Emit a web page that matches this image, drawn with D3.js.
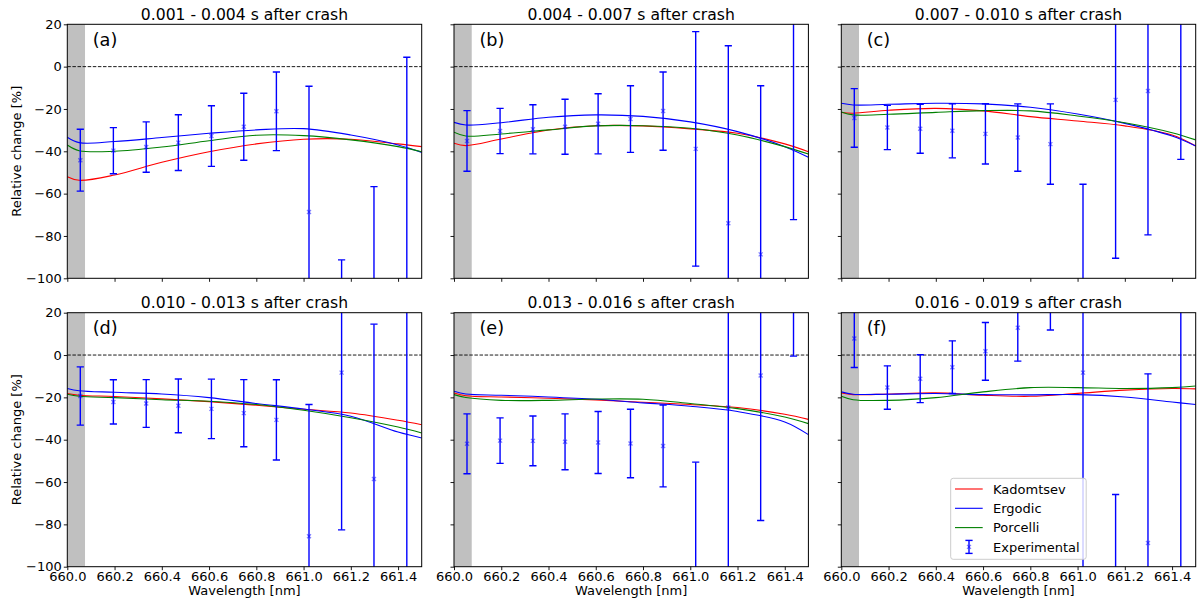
<!DOCTYPE html>
<html>
<head>
<meta charset="utf-8">
<script src="https://cdn.jsdelivr.net/npm/d3@7"></script>
<style>
  body { margin: 0; background: #fff; }
  text { font-family: "DejaVu Sans", sans-serif; fill: #000; }
</style>
</head>
<body>
<svg id="chart"></svg>
<script>
// Panel titles and letters
const titles = [
  '0.001 - 0.004 s after crash', '0.004 - 0.007 s after crash', '0.007 - 0.010 s after crash',
  '0.010 - 0.013 s after crash', '0.013 - 0.016 s after crash', '0.016 - 0.019 s after crash'
]
const letters = ['(a)', '(b)', '(c)', '(d)', '(e)', '(f)']

// Tick labels
const xTicks = [660.0, 660.2, 660.4, 660.6, 660.8, 661.0, 661.2, 661.4]
const yTicks = [-100, -80, -60, -40, -20, 0, 20]

// Excluded region (grey band)
const bandWl = [660.0, 660.075]

// Wavelengths of the model curves
const curveWl = [660.0, 660.05, 660.2, 660.4, 660.6, 660.8, 661.0, 661.2, 661.4, 661.5]

// Model curves, one row per panel
const kadomtsev = [
  [-52.0, -53.7, -51.2, -45.2, -40.2, -36.5, -34.3, -34.3, -36.5, -37.8],
  [-36.2, -37.3, -34.2, -29.9, -27.9, -28.0, -29.4, -31.5, -36.5, -40.2],
  [-21.7, -22.0, -20.6, -19.7, -20.9, -23.6, -25.7, -28.0, -32.3, -37.5],
  [-18.2, -19.0, -19.6, -20.7, -22.0, -23.7, -25.6, -27.4, -30.8, -32.9],
  [-17.9, -19.2, -19.8, -20.4, -21.2, -22.3, -23.4, -24.8, -28.0, -30.4],
  [-17.9, -18.7, -18.4, -17.9, -19.0, -19.5, -18.1, -16.6, -15.8, -16.0]
]
const ergodic = [
  [-33.4, -35.9, -35.4, -33.5, -31.5, -29.9, -29.3, -32.3, -37.0, -40.5],
  [-26.3, -27.6, -26.5, -23.9, -22.8, -23.5, -26.1, -30.7, -37.8, -42.8],
  [-17.3, -18.1, -17.8, -17.3, -17.6, -19.2, -22.4, -26.8, -32.8, -37.5],
  [-15.8, -16.9, -17.6, -18.4, -20.1, -22.9, -25.5, -28.9, -36.4, -39.2],
  [-17.1, -18.4, -19.0, -19.8, -20.9, -22.6, -24.2, -26.7, -31.6, -37.6],
  [-17.4, -18.5, -18.5, -18.2, -18.7, -18.8, -18.7, -19.8, -22.2, -23.4]
]
const porcelli = [
  [-37.0, -39.7, -40.0, -38.0, -35.0, -32.4, -32.6, -34.6, -37.8, -40.2],
  [-31.0, -32.8, -31.8, -29.9, -28.0, -27.9, -29.1, -32.3, -37.8, -41.3],
  [-21.4, -22.8, -22.5, -21.6, -20.8, -20.9, -23.3, -26.5, -31.2, -34.6],
  [-18.5, -19.5, -20.1, -21.1, -21.8, -23.4, -26.1, -29.6, -34.0, -36.8],
  [-18.7, -20.1, -21.4, -21.4, -20.8, -20.9, -22.9, -25.3, -29.3, -32.4],
  [-19.5, -21.1, -21.4, -20.1, -17.4, -15.4, -15.4, -15.8, -15.4, -14.6]
]

// Experimental points
const pointWl = [660.055, 660.195, 660.334, 660.47, 660.61, 660.747, 660.885, 661.023, 661.161, 661.298, 661.437]
const expValue = [
  [-44.2, -39.7, -38.0, -35.9, -32.8, -28.4, -21.1, -68.7, -150, -140, -120],
  [-35.1, -30.4, -29.6, -28.4, -27.0, -24.75, -21.0, -38.85, -74.0, -88.7, 45],
  [-24.25, -28.75, -29.35, -30.3, -31.75, -33.5, -36.6, -115, -15.7, -11.5, 40],
  [-19.35, -22.15, -22.9, -24.0, -25.45, -27.45, -30.65, -85.6, -8.3, -58.6, -130],
  [-41.95, -40.45, -40.55, -41.0, -41.35, -41.8, -42.95, -110, -24.8, -9.7, 60],
  [7.8, -15.35, -11.2, -5.75, 1.75, 12.9, 30, -8.3, -130, -88.8, -140]
]
const expError = [
  [14.6, 10.9, 11.9, 13.2, 14.3, 15.8, 18.6, 59.4, 58.7, 83.3, 124.4],
  [14.3, 10.7, 11.6, 13.0, 14.2, 15.75, 18.5, 55.4, 83.9, 79.7, 117.3],
  [13.85, 10.45, 11.55, 12.8, 14.25, 15.9, 19.0, 59.4, 74.8, 68.0, 83.8],
  [13.75, 10.45, 11.3, 12.7, 14.05, 15.85, 18.95, 62.2, 74.3, 73.2, 170],
  [14.15, 10.75, 11.75, 13.2, 14.65, 16.2, 19.35, 59.4, 85, 68.5, 60.5],
  [13.7, 10.25, 11.3, 12.45, 13.65, 15.8, 18.2, 100, 64.1, 79.9, 175]
]

const legendNames = ['Kadomtsev', 'Ergodic', 'Porcelli', 'Experimental']

// Layout
const width = 1198
const height = 604
const colLeft = [67.3, 454, 841.3]
const rowTop = [24.3, 312.7]
const panelW = 354.4
const panelH = 254

const svg = d3.select('#chart')
  .attr('width', width)
  .attr('height', height)

svg.append('rect')
  .attr('width', width)
  .attr('height', height)
  .attr('fill', '#fff')

const xScale = d3.scaleLinear().domain([660.0, 661.5]).range([0, panelW])
const yScale = d3.scaleLinear().domain([-100, 20]).range([panelH, 0])

const curveLine = d3.line()
  .x(d => xScale(d[0]))
  .y(d => yScale(d[1]))
  .curve(d3.curveCatmullRom.alpha(0.5))

const models = [
  {values: kadomtsev, color: '#ff0000'},
  {values: ergodic, color: '#0000ff'},
  {values: porcelli, color: '#008000'}
]

titles.forEach((title, i) => {
  const row = Math.floor(i / 3)
  const col = i % 3

  const graph = svg.append('g')
    .attr('transform', `translate(${colLeft[col]},${rowTop[row]})`)

  graph.append('clipPath')
    .attr('id', `clip${i}`)
    .append('rect')
      .attr('width', panelW)
      .attr('height', panelH)

  const plot = graph.append('g').attr('clip-path', `url(#clip${i})`)

  // grey band
  plot.append('rect')
    .attr('x', xScale(bandWl[0]))
    .attr('y', 0)
    .attr('width', xScale(bandWl[1]) - xScale(bandWl[0]))
    .attr('height', panelH)
    .attr('fill', '#c0c0c0')

  // zero line
  plot.append('line')
    .attr('x1', 0).attr('x2', panelW)
    .attr('y1', yScale(0)).attr('y2', yScale(0))
    .attr('stroke', '#000')
    .attr('stroke-width', 0.9)
    .attr('stroke-dasharray', '3.5,1.6')

  // model curves
  models.forEach(m => {
    plot.append('path')
      .datum(curveWl.map((w, k) => [w, m.values[i][k]]))
      .attr('d', curveLine)
      .attr('fill', 'none')
      .attr('stroke', m.color)
      .attr('stroke-width', 1.1)
  })

  // experimental error bars
  const pts = pointWl.map((w, k) => ({w, v: expValue[i][k], e: expError[i][k]}))
  const bars = plot.selectAll('g.err')
    .data(pts)
    .enter()
    .append('g')
      .attr('class', 'err')
      .attr('transform', d => `translate(${xScale(d.w)},0)`)

  bars.append('line')
    .attr('y1', d => yScale(d.v - d.e))
    .attr('y2', d => yScale(d.v + d.e))
    .attr('stroke', '#0000ff')
    .attr('stroke-width', 1.4)

  bars.selectAll('line.cap')
    .data(d => [d.v - d.e, d.v + d.e])
    .enter()
    .append('line')
      .attr('class', 'cap')
      .attr('x1', -3.6).attr('x2', 3.6)
      .attr('y1', d => yScale(d)).attr('y2', d => yScale(d))
      .attr('stroke', '#0000ff')
      .attr('stroke-width', 1.4)

  bars.append('path')
    .attr('d', d => {
      const y = yScale(d.v)
      return `M-2,${y - 2}L2,${y + 2}M-2,${y + 2}L2,${y - 2}`
    })
    .attr('stroke', '#0000ff')
    .attr('stroke-opacity', 0.5)
    .attr('stroke-width', 1.3)

  // axes
  const xAxis = d3.axisBottom(xScale)
    .tickValues(xTicks)
    .tickSizeInner(3.5)
    .tickSizeOuter(0)
    .tickPadding(2)
    .tickFormat(row === 1 ? d3.format('.1f') : '')
  const yAxis = d3.axisLeft(yScale)
    .tickValues(yTicks)
    .tickSizeInner(3.5)
    .tickSizeOuter(0)
    .tickPadding(2)
    .tickFormat(col === 0 ? d3.format('d') : '')

  const xAxisGroup = graph.append('g')
    .attr('transform', `translate(0,${panelH})`)
    .call(xAxis)
  const yAxisGroup = graph.append('g').call(yAxis)

  ;[xAxisGroup, yAxisGroup].forEach(g => {
    g.select('.domain').remove()
    g.selectAll('line').attr('stroke', '#000').attr('stroke-width', 0.9)
    g.selectAll('text')
      .attr('font-size', 13)
      .attr('font-family', 'DejaVu Sans')
      .attr('fill', '#000')
  })

  // frame
  graph.append('rect')
    .attr('width', panelW)
    .attr('height', panelH)
    .attr('fill', 'none')
    .attr('stroke', '#000')
    .attr('stroke-width', 1)

  // title
  graph.append('text')
    .attr('x', panelW / 2)
    .attr('y', -4.4)
    .attr('text-anchor', 'middle')
    .attr('font-size', 15.6)
    .text(title)

  // panel letter
  graph.append('text')
    .attr('x', 25.4)
    .attr('y', 21.7)
    .attr('font-size', 17.7)
    .text(letters[i])

  if (col === 0) {
    graph.append('text')
      .attr('transform', `translate(${21 - colLeft[0]},${panelH / 2}) rotate(-90)`)
      .attr('text-anchor', 'middle')
      .attr('font-size', 13)
      .text('Relative change [%]')
  }
  if (row === 1) {
    graph.append('text')
      .attr('x', panelW / 2)
      .attr('y', 595 - rowTop[1])
      .attr('text-anchor', 'middle')
      .attr('font-size', 13)
      .text('Wavelength [nm]')
  }

  // legend in the last panel
  if (i === 5) {
    const legend = graph.append('g')
      .attr('transform', `translate(${950.7 - colLeft[2]},${478.3 - rowTop[1]})`)

    legend.append('rect')
      .attr('width', 135.5)
      .attr('height', 81)
      .attr('rx', 2.5)
      .attr('fill', '#fff')
      .attr('fill-opacity', 0.8)
      .attr('stroke', '#cccccc')
      .attr('stroke-width', 1)

    legendNames.forEach((name, k) => {
      const y = 10.7 + k * 19.3
      if (k < 3) {
        legend.append('line')
          .attr('x1', 4.3).attr('x2', 32)
          .attr('y1', y).attr('y2', y)
          .attr('stroke', models[k].color)
          .attr('stroke-width', 1.1)
      } else {
        const cx = 18.3
        legend.append('line')
          .attr('x1', cx).attr('x2', cx)
          .attr('y1', y - 6.5).attr('y2', y + 6.5)
          .attr('stroke', '#0000ff').attr('stroke-width', 1.4)
        ;[y - 6.5, y + 6.5].forEach(cy => {
          legend.append('line')
            .attr('x1', cx - 3.6).attr('x2', cx + 3.6)
            .attr('y1', cy).attr('y2', cy)
            .attr('stroke', '#0000ff').attr('stroke-width', 1.4)
        })
        legend.append('path')
          .attr('d', `M${cx - 2},${y - 2}L${cx + 2},${y + 2}M${cx - 2},${y + 2}L${cx + 2},${y - 2}`)
          .attr('stroke', '#0000ff')
          .attr('stroke-opacity', 0.5)
          .attr('stroke-width', 1.3)
      }
      legend.append('text')
        .attr('x', 42.3)
        .attr('y', y + 4.7)
        .attr('font-size', 13)
        .text(name)
    })
  }
})
</script>
</body>
</html>
